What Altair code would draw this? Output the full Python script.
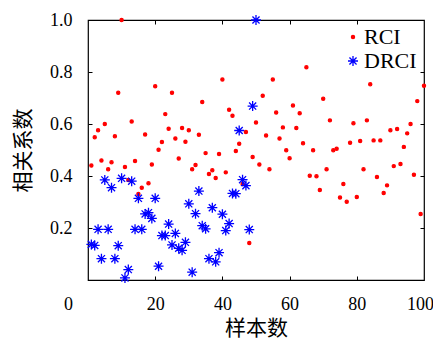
import altair as alt
import pandas as pd

# ---- data ----
sample_rci = list(range(1, 101))
rci = [0.44, 0.549, 0.576, 0.46, 0.60, 0.426, 0.453, 0.553, 0.72, 1.0,
       0.435, 0.385, 0.61, 0.458, 0.331, 0.355, 0.56, 0.372, 0.444, 0.745,
       0.501, 0.531, 0.638, 0.582, 0.72, 0.544, 0.467, 0.585, 0.532, 0.576,
       0.426, 0.442, 0.559, 0.685, 0.488, 0.408, 0.422, 0.392, 0.485, 0.771,
       0.414, 0.655, 0.632, 0.496, 0.524, 0.369, 0.569, 0.142, 0.473, 0.606,
       0.444, 0.709, 0.556, 0.426, 0.771, 0.644, 0.544, 0.587, 0.499, 0.468,
       0.671, 0.585, 0.641, 0.526, 0.818, 0.401, 0.499, 0.399, 0.346, 0.697,
       0.426, 0.614, 0.499, 0.505, 0.317, 0.369, 0.301, 0.528, 0.603, 0.319,
       0.535, 0.426, 0.614, 0.753, 0.537, 0.396, 0.537, 0.335, 0.364, 0.576,
       0.438, 0.581, 0.446, 0.512, 0.564, 0.60, 0.405, 0.688, 0.254, 0.747]

sample_drci = list(range(1, 51))
drci = [0.137, 0.133, 0.195, 0.082, 0.385, 0.195, 0.355, 0.082, 0.132, 0.391,
        0.008, 0.04, 0.38, 0.195, 0.314, 0.195, 0.254, 0.259, 0.237, 0.314,
        0.053, 0.171, 0.171, 0.215, 0.135, 0.179, 0.122, 0.114, 0.145, 0.293,
        0.03, 0.255, 0.342, 0.209, 0.197, 0.082, 0.278, 0.07, 0.105, 0.253,
        0.19, 0.217, 0.333, 0.332, 0.575, 0.386, 0.363, 0.194, 0.669, 1.0]

series_names = ["RCI", "DRCI"]
series_colors = ["#ff0000", "#0000ff"]
x_ticks = [0, 20, 40, 60, 80, 100]
y_ticks = [0.2, 0.4, 0.6, 0.8, 1.0]
x_minor = [20, 40, 60, 80]
y_minor = [0.2, 0.4, 0.6, 0.8]
x_title = "样本数"
y_title = "相关系数"

STAR = "M-1,0L1,0M0,-1L0,1M-0.71,-0.71L0.71,0.71M-0.71,0.71L0.71,-0.71"

df = pd.concat([
    pd.DataFrame({"n": sample_rci, "r": rci, "s": "RCI"}),
    pd.DataFrame({"n": sample_drci, "r": drci, "s": "DRCI"}),
], ignore_index=True)

W, H = 336, 260
SERIF = "Liberation Serif"
CJK = "Noto Sans CJK SC"

xs = alt.Scale(domain=[0, 100], nice=False, zero=False)
ys = alt.Scale(domain=[0, 1], nice=False)

leg = alt.Legend(orient="none", legendX=254, legendY=6, title=None,
                 labelFont=SERIF, labelFontSize=22, labelColor="black",
                 symbolStrokeWidth=1.3, labelOffset=0, padding=0,
                 rowPadding=2, symbolOffset=0)

main = alt.Chart(df).mark_point(filled=True, strokeWidth=1.3, opacity=1).encode(
    x=alt.X("n:Q", scale=xs, axis=alt.Axis(
        orient="bottom", values=x_ticks, tickSize=0, domain=False, grid=False,
        labelFont=SERIF, labelFontSize=18, labelColor="black", labelPadding=24,
        labelBaseline="middle", labelFlush=False,
        labelOffset={"condition": [{"test": "datum.value == 0", "value": -20},
                                   {"test": "datum.value == 100", "value": -4}],
                     "value": 0},
        title=x_title, titleFont=CJK, titleFontSize=21, titleFontWeight="normal",
        titleColor="black", titleX=W / 2, titleY=48, titleBaseline="middle",
        titleAlign="center")),
    y=alt.Y("r:Q", scale=ys, axis=alt.Axis(
        orient="left", values=y_ticks, format=".1f", tickSize=0, domain=False,
        grid=False, labelFont=SERIF, labelFontSize=18, labelColor="black",
        labelPadding=16, labelFlush=False,
        title=y_title, titleFont=CJK, titleFontSize=21, titleFontWeight="normal",
        titleColor="black", titleX=-65, titleY=H / 2, titleBaseline="middle",
        titleAlign="center", titleAngle=270)),
    fill=alt.Fill("s:N", scale=alt.Scale(domain=series_names, range=series_colors), legend=leg),
    stroke=alt.Stroke("s:N", scale=alt.Scale(domain=series_names, range=series_colors), legend=leg),
    shape=alt.Shape("s:N", scale=alt.Scale(domain=series_names, range=["circle", STAR]), legend=leg),
    size=alt.Size("s:N", scale=alt.Scale(domain=series_names, range=[10, 100]), legend=leg),
)

ticks_a = alt.Chart(df).transform_filter("false").mark_point().encode(
    x=alt.X("n:Q", scale=xs, axis=alt.Axis(
        orient="top", offset=-H, values=x_minor, labels=False, tickSize=4,
        tickColor="black", tickWidth=1, domain=False, grid=False, title=None)),
    y=alt.Y("r:Q", scale=ys, axis=alt.Axis(
        orient="right", offset=-W, values=y_minor, labels=False, tickSize=4,
        tickColor="black", tickWidth=1, domain=False, grid=False, title=None)),
)

ticks_b = alt.Chart(df).transform_filter("false").mark_point().encode(
    x=alt.X("n:Q", scale=xs, axis=alt.Axis(
        orient="bottom", offset=-H, values=x_minor, labels=False, tickSize=4,
        tickColor="black", tickWidth=1, domain=False, grid=False, title=None)),
    y=alt.Y("r:Q", scale=ys, axis=alt.Axis(
        orient="left", offset=-W, values=y_minor, labels=False, tickSize=4,
        tickColor="black", tickWidth=1, domain=False, grid=False, title=None)),
)

chart = alt.layer(main, ticks_a, ticks_b).resolve_axis(
    x="independent", y="independent"
).properties(
    width=W, height=H,
    autosize=alt.AutoSizeParams(type="none"),
    padding={"left": 80, "top": 12, "right": 9, "bottom": 60},
    background="white",
).configure_view(stroke="black", strokeWidth=1.2)

chart.save("out.html", embed_options={"renderer": "svg", "actions": False})
